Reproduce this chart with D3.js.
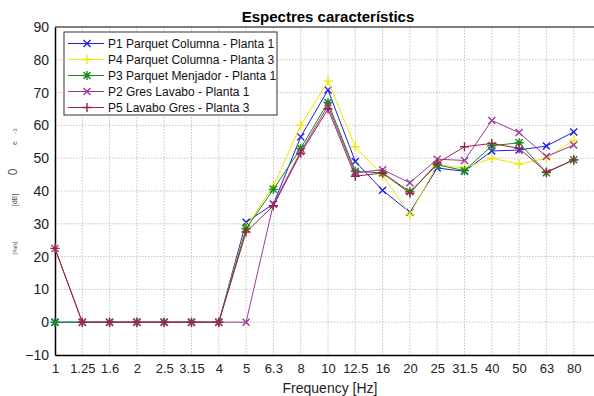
<!DOCTYPE html>
<html>
<head>
<meta charset="utf-8">
<script src="https://cdn.jsdelivr.net/npm/d3@7"></script>
<style>
  body { margin: 0; background: #fff; }
  svg { display: block; font-family: "Liberation Sans", Arial, sans-serif; }
  .grid line { stroke: #c4c4c4; stroke-dasharray: 1.5,1.5; }
  .axis path, .axis line { stroke: #000; }
</style>
</head>
<body>
<svg id="chart" width="594" height="396"></svg>
<script>
const freqs = ["1", "1.25", "1.6", "2", "2.5", "3.15", "4", "5", "6.3", "8", "10",
    "12.5", "16", "20", "25", "31.5", "40", "50", "63", "80"]

const yTicks = [-10, 0, 10, 20, 30, 40, 50, 60, 70, 80, 90]

const names = [
    "P1 Parquet Columna - Planta 1",
    "P4 Parquet Columna - Planta 3",
    "P3 Parquet Menjador - Planta 1",
    "P2 Gres Lavabo - Planta 1",
    "P5 Lavabo Gres - Planta 3"
]

const p1 = [0, 0, 0, 0, 0, 0, 0, 30.5, 36, 56.5, 70.8, 49, 40.2, 33.5, 47, 46, 52.2, 52.5, 53.7, 58]
const p4 = [22.5, 0, 0, 0, 0, 0, 0, 29, 41.5, 60, 73.5, 53.5, 44.8, 32.8, 48, 47, 50, 48.2, 50, 55.5]
const p3 = [0, 0, 0, 0, 0, 0, 0, 28.5, 40.5, 53, 67, 46, 45.5, 39.8, 48, 46.2, 53.8, 54.7, 45.6, 49.5]
const p2 = [22.5, 0, 0, 0, 0, 0, 0, 0, 36, 52, 66, 45.5, 46.5, 42.5, 49.7, 49.3, 61.5, 57.8, 50.5, 54]
const p5 = [22.5, 0, 0, 0, 0, 0, 0, 27.5, 35.5, 51.5, 65, 44.5, 45.5, 39.3, 48.5, 53.5, 54.5, 53, 45.8, 49.5]

const colors = ["#1f1fe6", "#f0e800", "#1a8a1a", "#9a3a9a", "#9e2048"]
const markers = ["x", "+", "*", "x", "+"]

const series = [p1, p4, p3, p2, p5].map(function(v, i) {
    return {name: names[i], values: v, color: colors[i], marker: markers[i]}
})

let margin = {top: 27, right: -7, bottom: 41, left: 55}

let svg = d3.select("#chart")
let width = +svg.attr("width")
let height = +svg.attr("height")
let plotWidth = width - margin.left - margin.right
let plotHeight = height - margin.top - margin.bottom

// x is the band index, one more slot (100 Hz) falls off the right edge
let xScale = d3.scaleLinear()
    .domain([0, freqs.length])
    .range([0, plotWidth])

let yScale = d3.scaleLinear()
    .domain([-10, 90])
    .range([plotHeight, 0])

let plot = svg.append("g")
    .attr("transform", "translate(" + margin.left + "," + margin.top + ")")

// grid
let grid = plot.append("g").attr("class", "grid")
grid.selectAll("line.v")
    .data(d3.range(1, freqs.length + 1))
    .enter().append("line")
    .attr("class", "v")
    .attr("x1", function(d) { return xScale(d) })
    .attr("x2", function(d) { return xScale(d) })
    .attr("y1", 0)
    .attr("y2", plotHeight)
grid.selectAll("line.h")
    .data(yTicks.slice(1, -1))
    .enter().append("line")
    .attr("class", "h")
    .attr("x1", 0)
    .attr("x2", plotWidth)
    .attr("y1", function(d) { return yScale(d) })
    .attr("y2", function(d) { return yScale(d) })

// box top
plot.append("line")
    .attr("x1", 0).attr("x2", plotWidth)
    .attr("y1", 0).attr("y2", 0)
    .attr("stroke", "#000")

let xAxis = d3.axisBottom(xScale)
    .tickValues(d3.range(freqs.length))
    .tickFormat(function(i) { return freqs[i] })
    .tickSize(0)
    .tickPadding(9)

let yAxis = d3.axisLeft(yScale)
    .tickValues(yTicks)
    .tickSize(0)
    .tickPadding(6)

let xGroup = plot.append("g")
    .attr("class", "axis")
    .attr("transform", "translate(0," + plotHeight + ")")
    .call(xAxis)
xGroup.select(".domain").attr("stroke-width", 1.5)
xGroup.selectAll("text").style("font-size", "13px").attr("fill", "#222")

let yGroup = plot.append("g")
    .attr("class", "axis")
    .call(yAxis)
yGroup.select(".domain").attr("stroke-width", 1.5)
yGroup.selectAll("text").style("font-size", "14px").attr("fill", "#222")

// lines
let line = d3.line()
    .x(function(d, i) { return xScale(i) })
    .y(function(d) { return yScale(d) })

let groups = plot.selectAll("g.series")
    .data(series)
    .enter().append("g")
    .attr("class", "series")

groups.append("path")
    .attr("d", function(d) { return line(d.values) })
    .attr("fill", "none")
    .attr("stroke", function(d) { return d.color })
    .attr("stroke-width", 1)

function markerPath(type, r) {
    let x = "M" + (-r) + "," + (-r) + "L" + r + "," + r + "M" + (-r) + "," + r + "L" + r + "," + (-r)
    let p = "M" + (-r * 1.3) + ",0L" + (r * 1.3) + ",0M0," + (-r * 1.3) + "L0," + (r * 1.3)
    if (type == "x") return x
    if (type == "+") return p
    return x + p
}

groups.each(function(s) {
    d3.select(this).selectAll("path.mk")
        .data(s.values)
        .enter().append("path")
        .attr("class", "mk")
        .attr("transform", function(d, i) { return "translate(" + xScale(i) + "," + yScale(d) + ")" })
        .attr("d", markerPath(s.marker, 3.5))
        .attr("stroke", s.color)
        .attr("stroke-width", 1.4)
        .attr("fill", "none")
})

// legend
let legend = svg.append("g").attr("transform", "translate(64,32)")
legend.append("rect")
    .attr("width", 213).attr("height", 83)
    .attr("fill", "#fff")
    .attr("stroke", "#333")
let items = legend.selectAll("g.item")
    .data(series)
    .enter().append("g")
    .attr("class", "item")
    .attr("transform", function(d, i) { return "translate(0," + (11.5 + i * 16) + ")" })
items.append("line")
    .attr("x1", 4).attr("x2", 40)
    .attr("stroke", function(d) { return d.color })
    .attr("stroke-width", 1)
items.append("path")
    .attr("transform", "translate(23,0)")
    .attr("d", function(d) { return markerPath(d.marker, 3.5) })
    .attr("stroke", function(d) { return d.color })
    .attr("stroke-width", 1.4)
items.append("text")
    .attr("x", 44)
    .attr("dy", "0.35em")
    .style("font-size", "12px")
    .attr("fill", "#111")
    .text(function(d) { return d.name })

// title and x label
svg.append("text")
    .attr("x", margin.left + xScale(freqs.length) / 2)
    .attr("y", 22)
    .attr("text-anchor", "middle")
    .style("font-size", "15px")
    .style("font-weight", "bold")
    .text("Espectres característics")

svg.append("text")
    .attr("x", 330)
    .attr("y", 393)
    .attr("text-anchor", "middle")
    .style("font-size", "14px")
    .attr("fill", "#222")
    .text("Frequency [Hz]")

// y label, rendered as tiny garbled pieces in the original
const yLabelBits = [
    {t: "-3", y: 131, s: 6},
    {t: "e", y: 143, s: 7},
    {t: "0", y: 172, s: 12},
    {t: "[dB]", y: 200, s: 7},
    {t: "[Pa/s]", y: 248, s: 5}
]
svg.selectAll("text.ylab")
    .data(yLabelBits)
    .enter().append("text")
    .attr("class", "ylab")
    .attr("transform", function(d) { return "translate(17," + d.y + ") rotate(-90)" })
    .attr("text-anchor", "middle")
    .style("font-size", function(d) { return d.s + "px" })
    .attr("fill", "#555")
    .text(function(d) { return d.t })
</script>
</body>
</html>
